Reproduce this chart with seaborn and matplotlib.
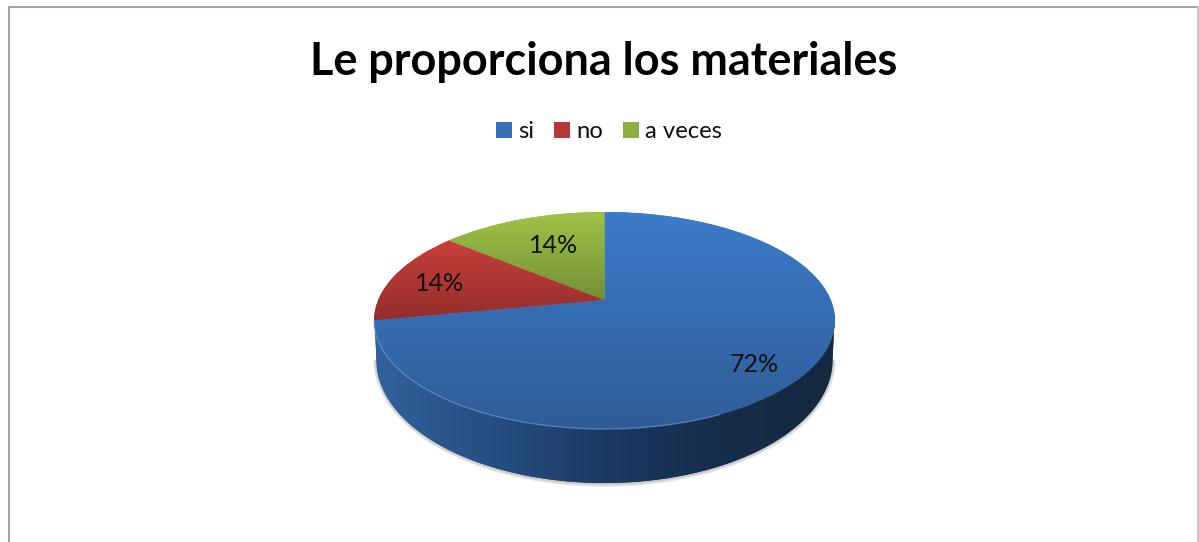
import numpy as np
import matplotlib
matplotlib.use("Agg")
import matplotlib.pyplot as plt
import seaborn as sns
from matplotlib.colors import LinearSegmentedColormap
from matplotlib.path import Path
from matplotlib.patches import PathPatch
from matplotlib.transforms import Transform

title = "Le proporciona los materiales"
categories = ["si", "no", "a veces"]
values = [72, 14, 14]
colors = ["#3670b5", "#b5393a", "#8cae40"]
top_shades = [("#3c7cca", "#2f5c96"), ("#c93f3b", "#932e2b"), ("#9ec445", "#748f38")]
wall_shades = ["#31619c", "#264f82", "#1b3a63", "#162d4b", "#14283f"]

W, H = 1199, 542
CX, CY = 604.5, 320.5


class Perspective(Transform):
    # tilted disc: unit circle onto an ellipse, centre of the pie sits above ellipse centre
    input_dims = 2
    output_dims = 2
    has_inverse = False

    def __init__(self, sx=226.3, sy=108.5, lift=20.5, k=0.189):
        super().__init__()
        self.sx, self.sy, self.lift, self.k = sx, sy, lift, k

    def transform_non_affine(self, values):
        x, y = values[:, 0], values[:, 1]
        d = 1 + self.k * y
        return np.column_stack([CX + self.sx * x / d, CY - (self.sy * y + self.lift) / d])


def shade(ax, clip, extent, cols, vertical=True):
    cmap = LinearSegmentedColormap.from_list("s", cols)
    grad = np.linspace(0, 1, 256).reshape(-1, 1) if vertical else np.linspace(0, 1, 512).reshape(1, -1)
    im = ax.imshow(grad, cmap=cmap, extent=extent, aspect="auto", zorder=1.5, interpolation="bilinear")
    im.set_clip_path(clip)
    return im


sns.set_theme(style="white")
plt.rcParams["font.family"] = ["Lato", "DejaVu Sans"]

fig = plt.figure(figsize=(W / 100, H / 100), dpi=100, facecolor="white")
ax = fig.add_axes([0, 0, 1, 1])
persp = Perspective()

wedges, _, autotexts = ax.pie(
    values, colors=colors, startangle=90, counterclock=False,
    autopct="%.0f%%", pctdistance=1.0, textprops={"fontsize": 18, "color": "#111111", "zorder": 5},
)
ax.set_aspect("auto")

for w, cols in zip(wedges, top_shades):
    w.set_transform(persp + ax.transData)
    w.set_zorder(1.2)
    pts = persp.transform(w.get_path().vertices)
    shade(ax, w, (pts[:, 0].min(), pts[:, 0].max(), pts[:, 1].max(), pts[:, 1].min()), cols)
    w.set_edgecolor("none")

# label spots on the disc, radius and angle
for t, r, a in zip(autotexts, [0.81, 0.768, 0.627], [-42.8, 167.6, 113.5]):
    t.set_position((r * np.cos(np.radians(a)), r * np.sin(np.radians(a))))
    t.set_transform(persp + ax.transData)

# side wall, only the front of the first slice shows
low_cy, low_a, low_b = 360, 228, 123
theta = np.linspace(np.pi, 2 * np.pi, 200)
wall_x = CX + low_a * np.cos(theta)
wall_y = low_cy - low_b * np.sin(theta)
wall_pts = np.vstack([[CX - 230, CY], np.column_stack([wall_x, wall_y]), [CX + 230, CY], [CX - 230, CY]])
for grow in [4, 3, 2, 1]:
    sh_x = CX + (low_a + grow * 0.8) * np.cos(theta)
    sh_y = low_cy - (low_b + grow) * np.sin(theta)
    ax.fill(sh_x, sh_y, color="#777777", alpha=0.13, lw=0, zorder=0.5)
wall = PathPatch(Path(wall_pts), facecolor="#1b3a63", edgecolor="none", zorder=0.8)
ax.add_patch(wall)
im = shade(ax, wall, (CX - 230, CX + 230, 490, 300), wall_shades, vertical=False)
im.set_zorder(0.9)

# light rim along the front of the top face
t = np.radians(np.linspace(190.8, 295, 150))
ax.plot(np.cos(t), np.sin(t), color="#6b9ede", lw=1.0, alpha=0.6, zorder=2,
        transform=persp + ax.transData)

# chart frame
ax.plot([8.5, 8.5, 1198], [H, 6.5, 6.5], color="#a3a3a3", lw=1.5, zorder=1)
ax.plot([1198, 1198], [6.5, H], color="#c8c8c8", lw=1.5, zorder=1)

ax.text(604, 62, title, ha="center", va="center", fontsize=32.4, fontweight="bold", color="#000000")
ax.legend(wedges, categories, loc="center", bbox_to_anchor=(609 / W, 1 - 131.5 / H), ncol=3,
          frameon=False, fontsize=17.2, handlelength=0.66, handleheight=0.66,
          handletextpad=0.25, columnspacing=0.85, labelcolor="#111111")

ax.set_xlim(0, W)
ax.set_ylim(H, 0)
ax.set_axis_off()
fig.savefig("out.png", dpi=100)
